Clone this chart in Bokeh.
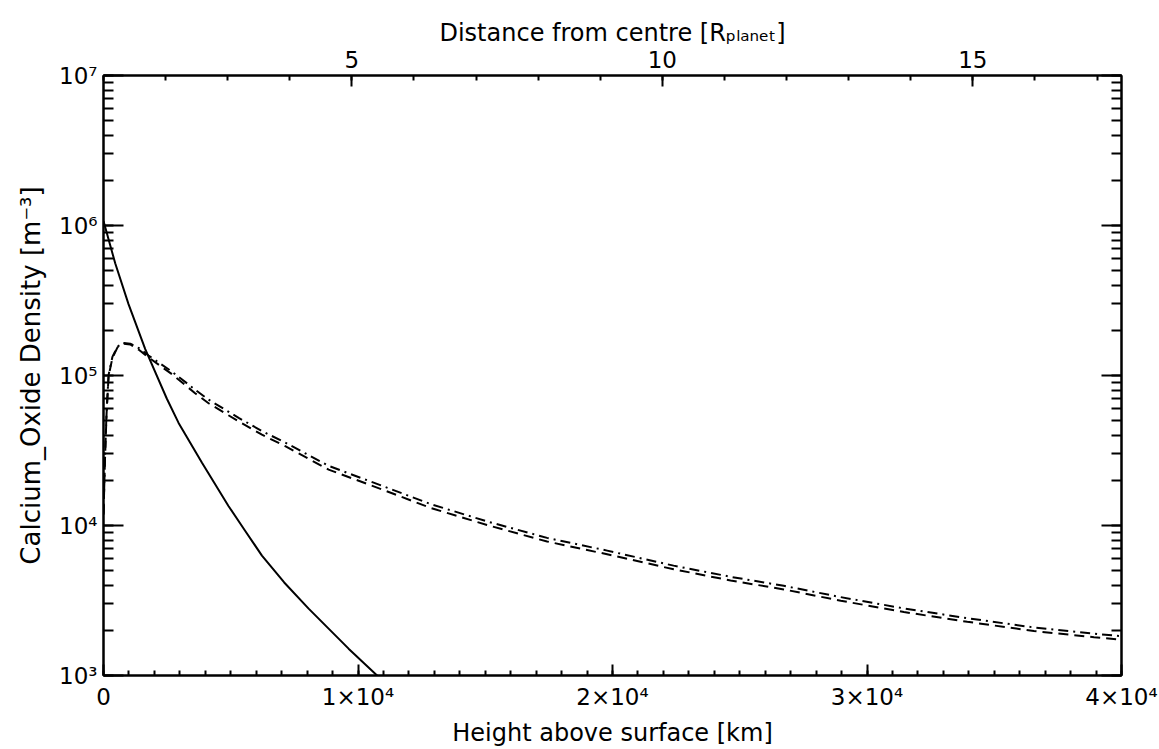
from bokeh.plotting import figure
from bokeh.models import (Range1d, LinearAxis, LogAxis, LogTicker, SingleIntervalTicker,
                          CustomJSTickFormatter, Title)
from bokeh.embed import file_html
from bokeh.resources import INLINE

# ---------------- data ----------------
R_PLANET_KM = 2440.0  # planet radius used by the top axis

solid_height_km = [0, 460, 983, 1640, 2490, 2950, 3870, 4910, 5550, 6225, 7100, 8060,
                   9630, 10750, 12000]
solid_density = [1.07e6, 5.6e5, 2.99e5, 1.50e5, 7.0e4, 4.83e4, 2.62e4, 1.35e4, 9.3e3,
                 6.3e3, 4.17e3, 2.79e3, 1.51e3, 1.0e3, 6.2e2]

dashed_height_km = [0, 60, 120, 200, 350, 550, 800, 1050, 1400, 1770, 2690, 3600, 4130,
                    5310, 6225, 7140, 8845, 10940, 12850, 15070, 17430, 19790, 22400,
                    24640, 26730, 28970, 31450, 33940, 36560, 38920, 40000]
dashdot_density = [1.2e4, 2.85e4, 5.7e4, 1.01e5, 1.33e5, 1.56e5, 1.65e5, 1.63e5, 1.52e5,
                   1.36e5, 1.06e5, 8.05e4, 6.9e4, 5.22e4, 4.26e4, 3.57e4, 2.5e4, 1.84e4,
                   1.39e4, 1.065e4, 8.27e3, 6.8e3, 5.4e3, 4.55e3, 3.96e3, 3.33e3, 2.8e3,
                   2.41e3, 2.09e3, 1.9e3, 1.83e3]
dash_density = [1.18e4, 2.8e4, 5.55e4, 9.9e4, 1.31e5, 1.54e5, 1.63e5, 1.61e5, 1.48e5,
                1.32e5, 1.02e5, 7.62e4, 6.53e4, 4.94e4, 4.03e4, 3.38e4, 2.36e4, 1.74e4,
                1.31e4, 1.007e4, 7.82e3, 6.43e3, 5.11e3, 4.3e3, 3.75e3, 3.15e3, 2.65e3,
                2.28e3, 1.98e3, 1.8e3, 1.73e3]

x_min, x_max = 0, 40000
y_min, y_max = 1e3, 1e7

x_title = "Height above surface [km]"
y_title = "Calcium_Oxide Density [m\u207b\u00b3]"
top_title = "Distance from centre [R\u209a\u2097\u2090\u2099\u2091\u209c]"

FONT = "DejaVu Sans"

p = figure(width=1159, height=749, output_backend="svg", toolbar_location=None,
           x_range=Range1d(x_min, x_max), y_range=Range1d(y_min, y_max),
           y_axis_type="log", x_axis_location="below", y_axis_location="left",
           min_border_left=103, min_border_right=38, min_border_top=75, min_border_bottom=72)
p.background_fill_color = "white"
p.border_fill_color = "white"
p.xgrid.visible = False
p.ygrid.visible = False
p.outline_line_color = "black"
p.outline_line_width = 2

p.extra_x_ranges = {"dist": Range1d(1.0, 1.0 + x_max / R_PLANET_KM)}

sup_js = """
const s = {'0':'\u2070','1':'\u00b9','2':'\u00b2','3':'\u00b3','4':'\u2074','5':'\u2075','6':'\u2076','7':'\u2077','8':'\u2078','9':'\u2079','-':'\u207b'};
"""
ylab_fmt = CustomJSTickFormatter(code=sup_js + """
const e = Math.round(Math.log10(tick));
return '10' + String(e).split('').map(c => s[c]).join('');
""")
xlab_fmt = CustomJSTickFormatter(code="""
if (tick == 0) { return '0'; }
return String(Math.round(tick / 1e4)) + '\u00d710\u2074';
""")
blank_fmt = CustomJSTickFormatter(code="return '';")


def style_axis(ax, maj, mnr):
    ax.axis_line_width = 2
    ax.axis_line_color = "black"
    ax.major_tick_line_width = 2
    ax.minor_tick_line_width = 2
    ax.major_tick_in = maj
    ax.major_tick_out = 0
    ax.minor_tick_in = mnr
    ax.minor_tick_out = 0
    ax.major_label_text_font = FONT
    ax.major_label_text_font_size = "23px"
    ax.major_label_text_color = "black"
    ax.axis_label_text_font = FONT
    ax.axis_label_text_font_size = "24px"
    ax.axis_label_text_font_style = "normal"
    ax.axis_label_text_color = "black"


# bottom axis
xb = p.xaxis[0]
xb.ticker = SingleIntervalTicker(interval=10000, num_minor_ticks=10)
xb.formatter = xlab_fmt
xb.axis_label = x_title
style_axis(xb, 11, 5)
xb.major_label_standoff = 8
xb.axis_label_standoff = 6

# left axis
yl = p.yaxis[0]
yl.ticker = LogTicker(num_minor_ticks=10)
yl.formatter = ylab_fmt
yl.axis_label = y_title
style_axis(yl, 20, 10)
yl.axis_label_text_font_size = "26px"
yl.major_label_standoff = 6
yl.axis_label_standoff = 10

# right axis (ticks only)
yr = LogAxis(ticker=LogTicker(num_minor_ticks=10), formatter=blank_fmt)
style_axis(yr, 20, 10)
p.add_layout(yr, "right")

# top axis: distance from centre
xt = LinearAxis(x_range_name="dist", ticker=SingleIntervalTicker(interval=5, num_minor_ticks=5))
style_axis(xt, 11, 5)
xt.major_label_standoff = 8
p.add_layout(xt, "above")

# top title, slightly left of centre as in the reference
t = Title(text=top_title, align="center", offset=-46, text_font=FONT,
          text_font_size="24px", text_font_style="normal", text_color="black",
          standoff=2)
p.add_layout(t, "above")

# curves
p.line(x=solid_height_km, y=solid_density, line_color="black", line_width=2)
p.line(x=dashed_height_km, y=dash_density, line_color="black", line_width=2,
       line_dash="10 6")
p.line(x=dashed_height_km, y=dashdot_density, line_color="black", line_width=2,
       line_dash="10 5 2 5")

open("out.html", "w").write(file_html(p, INLINE))
